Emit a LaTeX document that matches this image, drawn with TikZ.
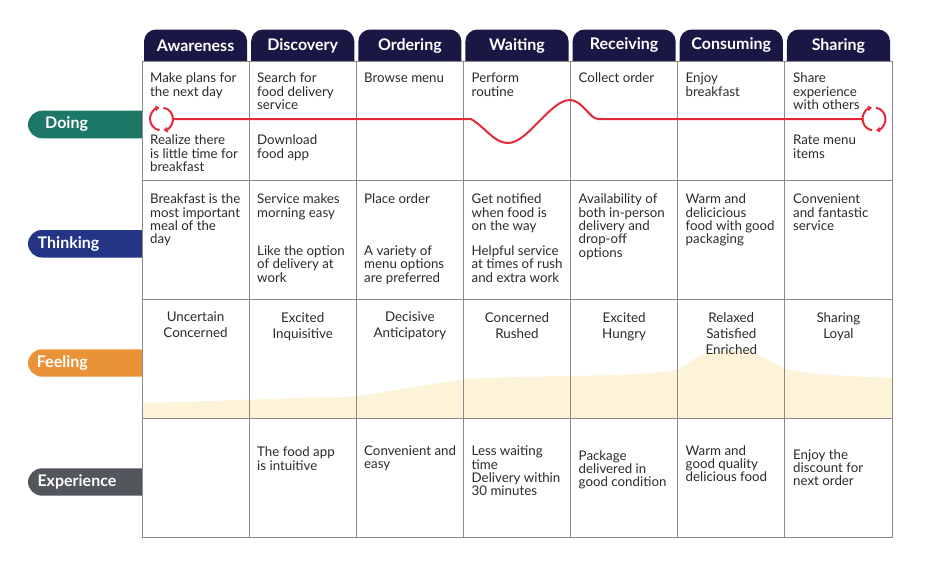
\documentclass[tikz,border=0pt]{standalone}
\usepackage{fontspec}
\setmainfont{Lato}
\usetikzlibrary{arrows.meta}
\definecolor{hdr}{HTML}{1B1744}
\definecolor{doingc}{HTML}{1D7766}
\definecolor{thinkc}{HTML}{233584}
\definecolor{feelc}{HTML}{EA9237}
\definecolor{expc}{HTML}{53565D}
\definecolor{gridc}{HTML}{8A8A8A}
\definecolor{redc}{HTML}{E5283A}
\definecolor{creamc}{HTML}{FDF3D8}
\definecolor{txtc}{HTML}{2B2B2B}
\begin{document}
\begin{tikzpicture}[x=1pt,y=-1pt,
  txt/.style={anchor=north west, inner sep=0pt, align=left, font=\fontsize{13.3}{13.3}\selectfont, text=txtc},
  feel/.style={anchor=north, inner sep=0pt, align=center, font=\fontsize{13.4}{16}\selectfont, text=txtc},
  tabtxt/.style={text=white, inner sep=0pt, font=\bfseries\fontsize{16}{18}\selectfont},
  lbltxt/.style={text=white, anchor=west, inner sep=0pt, font=\bfseries\fontsize{16}{18}\selectfont},
  gridl/.style={draw=gridc, line width=1pt},
  redl/.style={draw=redc, line width=2pt},
  tip/.style={-{Triangle[length=4pt,width=5.5pt]}},
  icon/.style={circle, minimum size=23pt, inner sep=0pt}]
\useasboundingbox (0,0) rectangle (936,570);
\fill[white] (0,0) rectangle (936,570);
% left labels
\fill[doingc, rounded corners=14pt] (28,110.7) rectangle (165,138.3);
\fill[thinkc, rounded corners=14pt] (28,230) rectangle (165,257.5);
\fill[feelc, rounded corners=14pt] (28,349.3) rectangle (165,376.7);
\fill[expc, rounded corners=14pt] (28,468.3) rectangle (165,495.7);
% tabs
\foreach \a/\b in {144/247.1, 251.1/354.3, 358.3/461.4, 465.4/568.6, 572.6/675.7, 679.7/782.9, 786.9/890}
  \fill[hdr, rounded corners=12pt] (\a,29.5) rectangle (\b,75);
% table background
\fill[white] (142,61) rectangle (892,537.5);
% feeling wave
\fill[creamc] plot[smooth, tension=0.55] coordinates {(142,403) (210,401) (300,398) (357,396) (420,386) (470,379) (520,377) (570,376) (640,374) (678,369) (700,356) (725,351) (752,352) (772,362) (790,370) (830,375) (892,378)} -- (892,418) -- (142,418) -- cycle;
% grid
\foreach \y in {61,180,299,418,537.5} \draw[gridl] (142,\y) -- (892,\y);
\foreach \x in {142,249.14,356.29,463.43,570.57,677.71,784.86,892} \draw[gridl] (\x,61) -- (\x,537.5);
% label texts
\node[lbltxt] (doing) at (45,124.5) {Doing};
\node[lbltxt] (thinking) at (37.5,243.7) {Thinking};
\node[lbltxt] (feeling) at (36.7,363) {Feeling};
\node[lbltxt] (experience) at (37.3,482) {Experience};
% tab texts
\node[tabtxt] (h1) at (195.57,45.5) {Awareness};
\node[tabtxt] (h2) at (302.71,45.5) {Discovery};
\node[tabtxt] (h3) at (409.86,45.5) {Ordering};
\node[tabtxt] (h4) at (517,45.5) {Waiting};
\node[tabtxt] (h5) at (624.14,45.5) {Receiving};
\node[tabtxt] (h6) at (731.29,45.5) {Consuming};
\node[tabtxt] (h7) at (838.43,45.5) {Sharing};
% red line and icons
\node[icon] (iconL) at (161.5,119) {};
\node[icon] (iconR) at (874,119) {};
\draw[redl] (iconL.east) -- (471,119) .. controls (486,128) and (494,143) .. (508,143) .. controls (528,143) and (550,100) .. (570,100) .. controls (582,100) and (590,119) .. (598,119) -- (iconR.west);
\foreach \c in {iconL,iconR} {
  \draw[redl, tip] ([shift={(-80:11.5)}]\c.center) arc[start angle=-80, end angle=80, radius=11.5];
  \draw[redl, tip] ([shift={(100:11.5)}]\c.center) arc[start angle=100, end angle=260, radius=11.5];
}
% doing texts
\node[txt] (d1a) at (150,73) {Make plans for\\the next day};
\node[txt] (d1b) at (150,135) {Realize there\\is little time for\\breakfast};
\node[txt] (d2a) at (257,73) {Search for\\food delivery\\service};
\node[txt] (d2b) at (257,135) {Download\\food app};
\node[txt] (d3a) at (364,73) {Browse menu};
\node[txt] (d4a) at (471.5,73) {Perform\\routine};
\node[txt] (d5a) at (578.5,73) {Collect order};
\node[txt] (d6a) at (685.5,73) {Enjoy\\breakfast};
\node[txt] (d7a) at (793,73) {Share\\experience\\with others};
\node[txt] (d7b) at (793,135) {Rate menu\\items};
% thinking texts
\node[txt] (t1a) at (150,194) {Breakfast is the\\most important\\meal of the\\day};
\node[txt] (t2a) at (257,194) {Service makes\\morning easy};
\node[txt] (t2b) at (257,245.7) {Like the option\\of delivery at\\work};
\node[txt] (t3a) at (364,194) {Place order};
\node[txt] (t3b) at (364,245.7) {A variety of\\menu options\\are preferred};
\node[txt] (t4a) at (471.5,194) {Get notified\\when food is\\on the way};
\node[txt] (t4b) at (471.5,245.7) {Helpful service\\at times of rush\\and extra work};
\node[txt] (t5a) at (578.5,194) {Availability of\\both in-person\\delivery and\\drop-off\\options};
\node[txt] (t6a) at (685.5,194) {Warm and\\delicicious\\food with good\\packaging};
\node[txt] (t7a) at (793,194) {Convenient\\and fantastic\\service};
% feeling texts
\node[feel] (f1) at (195.57,312) {Uncertain\\Concerned};
\node[feel] (f2) at (302.71,312) {Excited\\Inquisitive};
\node[feel] (f3) at (409.86,312) {Decisive\\Anticipatory};
\node[feel] (f4) at (517,312) {Concerned\\Rushed};
\node[feel] (f5) at (624.14,312) {Excited\\Hungry};
\node[feel] (f6) at (731.29,312) {Relaxed\\Satisfied\\Enriched};
\node[feel] (f7) at (838.43,312) {Sharing\\Loyal};
% experience texts
\node[txt] (e2) at (257,446.7) {The food app\\is intuitive};
\node[txt] (e3) at (364,445) {Convenient and\\easy};
\node[txt] (e4) at (471.5,446) {Less waiting\\time\\Delivery within\\30 minutes};
\node[txt] (e5) at (578.5,450) {Package\\delivered in\\good condition};
\node[txt] (e6) at (685.5,445) {Warm and\\good quality\\delicious food};
\node[txt] (e7) at (793,449.3) {Enjoy the\\discount for\\next order};
\end{tikzpicture}
\end{document}
